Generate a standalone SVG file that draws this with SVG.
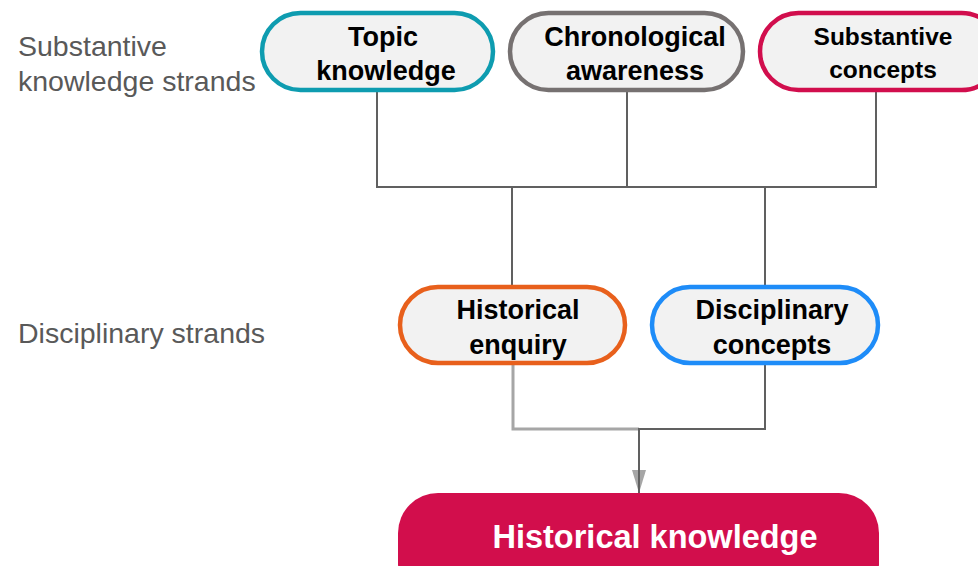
<svg xmlns="http://www.w3.org/2000/svg" width="978" height="566" viewBox="0 0 978 566">
<defs>
<style>
.node rect{fill:#F2F2F2;stroke-width:4.5}
.nt{font-family:"Liberation Sans",Arial,sans-serif;font-weight:bold;fill:#000;text-anchor:middle}
.lbl{font-family:"Liberation Sans",Arial,sans-serif;font-size:28.5px;fill:#595959}
.ln{fill:none;stroke:#606060;stroke-width:2}
</style>
</defs>
<rect width="978" height="566" fill="#fff"/>
<text class="lbl" x="18" y="56">Substantive</text>
<text class="lbl" x="18" y="91">knowledge strands</text>
<text class="lbl" x="18" y="343">Disciplinary strands</text>
<g id="connectors">
<path class="ln" d="M377 90V187H876V90M627 90V187M512 187V287M765 187V287"/>
<path d="M513 365V429H639" fill="none" stroke="#A6A6A6" stroke-width="3"/>
<path class="ln" d="M765 365V429H639V493"/>
<polygon points="632,470 646,470 639,493" fill="#A6A6A6"/>
<line x1="639" y1="465" x2="639" y2="493" stroke="#606060" stroke-width="2"/>
</g>
<g id="topic" class="node">
<rect x="262" y="13" width="231" height="77" rx="38.5" stroke="#0E9CB0"/>
<text class="nt" x="383" y="46" font-size="27">Topic</text>
<text class="nt" x="386" y="80" font-size="27">knowledge</text>
</g>
<g id="chrono" class="node">
<rect x="510" y="13" width="233" height="77" rx="38.5" stroke="#767171"/>
<text class="nt" x="635" y="46" font-size="27">Chronological</text>
<text class="nt" x="635" y="80" font-size="27">awareness</text>
</g>
<g id="subconcepts" class="node">
<rect x="760" y="13" width="240" height="77" rx="38.5" stroke="#D10E4D"/>
<text class="nt" x="883" y="45" font-size="24.5">Substantive</text>
<text class="nt" x="883" y="78" font-size="24.5">concepts</text>
</g>
<g id="enquiry" class="node">
<rect x="400" y="287" width="225" height="76" rx="38" stroke="#E8601C"/>
<text class="nt" x="518" y="319" font-size="27">Historical</text>
<text class="nt" x="518" y="354" font-size="27">enquiry</text>
</g>
<g id="disconcepts" class="node">
<rect x="652" y="287" width="226" height="76" rx="38" stroke="#1E8CF8"/>
<text class="nt" x="772" y="319" font-size="27">Disciplinary</text>
<text class="nt" x="772" y="354" font-size="27">concepts</text>
</g>
<g id="histknow">
<rect x="398" y="493" width="481" height="110" rx="40" fill="#D20E4C"/>
<text class="nt" x="655" y="548" font-size="32.5" style="fill:#fff">Historical knowledge</text>
</g>
</svg>
